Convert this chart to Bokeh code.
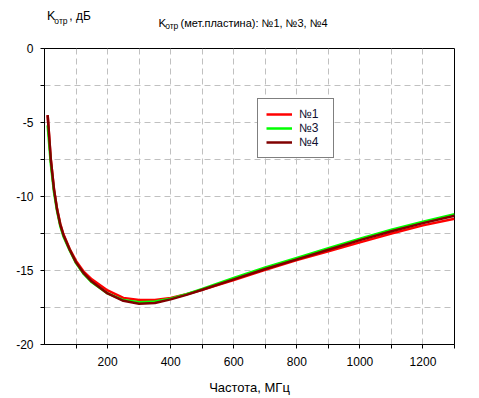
from bokeh.plotting import figure
from bokeh.layouts import column
from bokeh.models import FixedTicker, Legend, LegendItem, Range1d
from bokeh.core.properties import value
from bokeh.embed import file_html
from bokeh.resources import INLINE

# ---- data ----
freq = [10, 20, 30, 40, 50, 60, 80, 100, 125, 150, 200, 250, 300, 350, 400,
        450, 500, 600, 700, 800, 900, 1000, 1100, 1200, 1300]
k_n1 = [-4.5, -7.5, -9.5, -10.85, -11.85, -12.55, -13.55, -14.35, -15.1, -15.6,
        -16.35, -16.85, -17.0, -17.0, -16.85, -16.6, -16.3, -15.65, -14.95,
        -14.3, -13.7, -13.1, -12.5, -11.95, -11.5]
k_n3 = [-5.2, -7.8, -9.7, -11.0, -12.0, -12.7, -13.65, -14.5, -15.25, -15.8,
        -16.55, -17.0, -17.15, -17.1, -16.9, -16.6, -16.25, -15.5, -14.8,
        -14.15, -13.5, -12.85, -12.25, -11.7, -11.2]
k_n4 = [-4.5, -7.5, -9.5, -10.9, -11.9, -12.6, -13.6, -14.45, -15.2, -15.75,
        -16.55, -17.05, -17.25, -17.2, -16.95, -16.65, -16.3, -15.6, -14.9,
        -14.25, -13.6, -12.95, -12.35, -11.8, -11.3]
series_names = ["№1", "№3", "№4"]
x_major = [200, 400, 600, 800, 1000, 1200]
x_minor = [100, 300, 500, 700, 900, 1100, 1300]
x_grid = list(range(100, 1300, 100))
y_major = [-20, -15, -10, -5, 0]
y_minor = [-17.5, -12.5, -7.5, -2.5]
y_grid = [-17.5, -15, -12.5, -10, -7.5, -5, -2.5]
title_parts = ["K", "отр", "(мет.пластина): №1, №3, №4"]
ylabel_parts = ["K", "отр", ", дБ"]
x_label = "Частота, МГц"

FONT = "Liberation Sans"

# ---- header strip (title + y-axis caption), pixel coordinates ----
head = figure(width=479, height=40, output_backend="svg", toolbar_location=None,
              x_range=Range1d(0, 479), y_range=Range1d(40, 0),
              x_axis_type=None, y_axis_type=None,
              min_border=0, min_border_left=0, min_border_right=0,
              min_border_top=0, min_border_bottom=0)
head.outline_line_color = None
head.grid.visible = False
head.background_fill_color = "white"
head.border_fill_color = "white"

def txt(x, y, t, size):
    head.text(x=[x], y=[y], text=[t], text_font=value(FONT), text_font_size=size,
              text_color="black", text_baseline="alphabetic", text_align="left")

txt(133.3, 22.7, title_parts[0], "11.5px")
txt(141, 25.7, title_parts[1], "8.5px")
txt(159, 22.7, title_parts[2], "11px")
txt(3, 15.7, ylabel_parts[0], "12.5px")
txt(11.5, 20.3, ylabel_parts[1], "8.5px")
txt(29, 15.7, ylabel_parts[2], "12px")

# ---- main chart ----
p = figure(width=479, height=358, output_backend="svg", toolbar_location=None,
           x_range=Range1d(0, 1300), y_range=Range1d(-20, 0),
           min_border_left=44, min_border_right=25, min_border_top=8,
           min_border_bottom=54)
p.outline_line_color = "black"
p.outline_line_width = 1
p.background_fill_color = "white"
p.border_fill_color = "white"

for ax in (p.xaxis[0], p.yaxis[0]):
    ax.axis_line_color = "black"
    ax.major_tick_line_color = "black"
    ax.minor_tick_line_color = "black"
    ax.major_tick_in = 0
    ax.minor_tick_in = 0
    ax.major_tick_out = 4
    ax.minor_tick_out = 4
    ax.major_label_text_font = FONT
    ax.major_label_text_font_size = "12px"
    ax.major_label_text_color = "black"

p.xaxis[0].ticker = FixedTicker(ticks=x_major, minor_ticks=x_minor)
p.yaxis[0].ticker = FixedTicker(ticks=y_major, minor_ticks=y_minor)
p.yaxis[0].major_label_overrides = {v: str(v) for v in y_major}
p.xaxis[0].major_label_standoff = 8
p.yaxis[0].major_label_standoff = 7
p.xaxis[0].axis_label = x_label
p.xaxis[0].axis_label_text_font = FONT
p.xaxis[0].axis_label_text_font_size = "13px"
p.xaxis[0].axis_label_text_font_style = "normal"
p.xaxis[0].axis_label_text_color = "black"
p.xaxis[0].axis_label_standoff = 11

p.xgrid[0].ticker = FixedTicker(ticks=x_grid)
p.ygrid[0].ticker = FixedTicker(ticks=y_grid)
for g in (p.xgrid[0], p.ygrid[0]):
    g.grid_line_color = "#c0c0c0"
    g.grid_line_dash = "6 4"
    g.grid_line_width = 1

r1 = p.line(freq, k_n1, line_color="#ff0000", line_width=2.5)
r3 = p.line(freq, k_n3, line_color="#00ff00", line_width=2.5)
r4 = p.line(freq, k_n4, line_color="#800000", line_width=2.5)

legend = Legend(items=[LegendItem(label=series_names[0], renderers=[r1]),
                       LegendItem(label=series_names[1], renderers=[r3]),
                       LegendItem(label=series_names[2], renderers=[r4])],
                location=(213, 186))
legend.border_line_color = "black"
legend.border_line_width = 1
legend.background_fill_color = "white"
legend.background_fill_alpha = 1
legend.label_text_font = FONT
legend.label_text_font_size = "12px"
legend.label_text_color = "#101030"
legend.glyph_width = 26
legend.glyph_height = 12
legend.label_standoff = 7
legend.label_width = 26
legend.label_height = 14
legend.padding = 8
legend.spacing = 0
legend.margin = 0
p.add_layout(legend, "center")

layout = column(head, p, spacing=0)
open("out.html", "w").write(file_html(layout, INLINE))
